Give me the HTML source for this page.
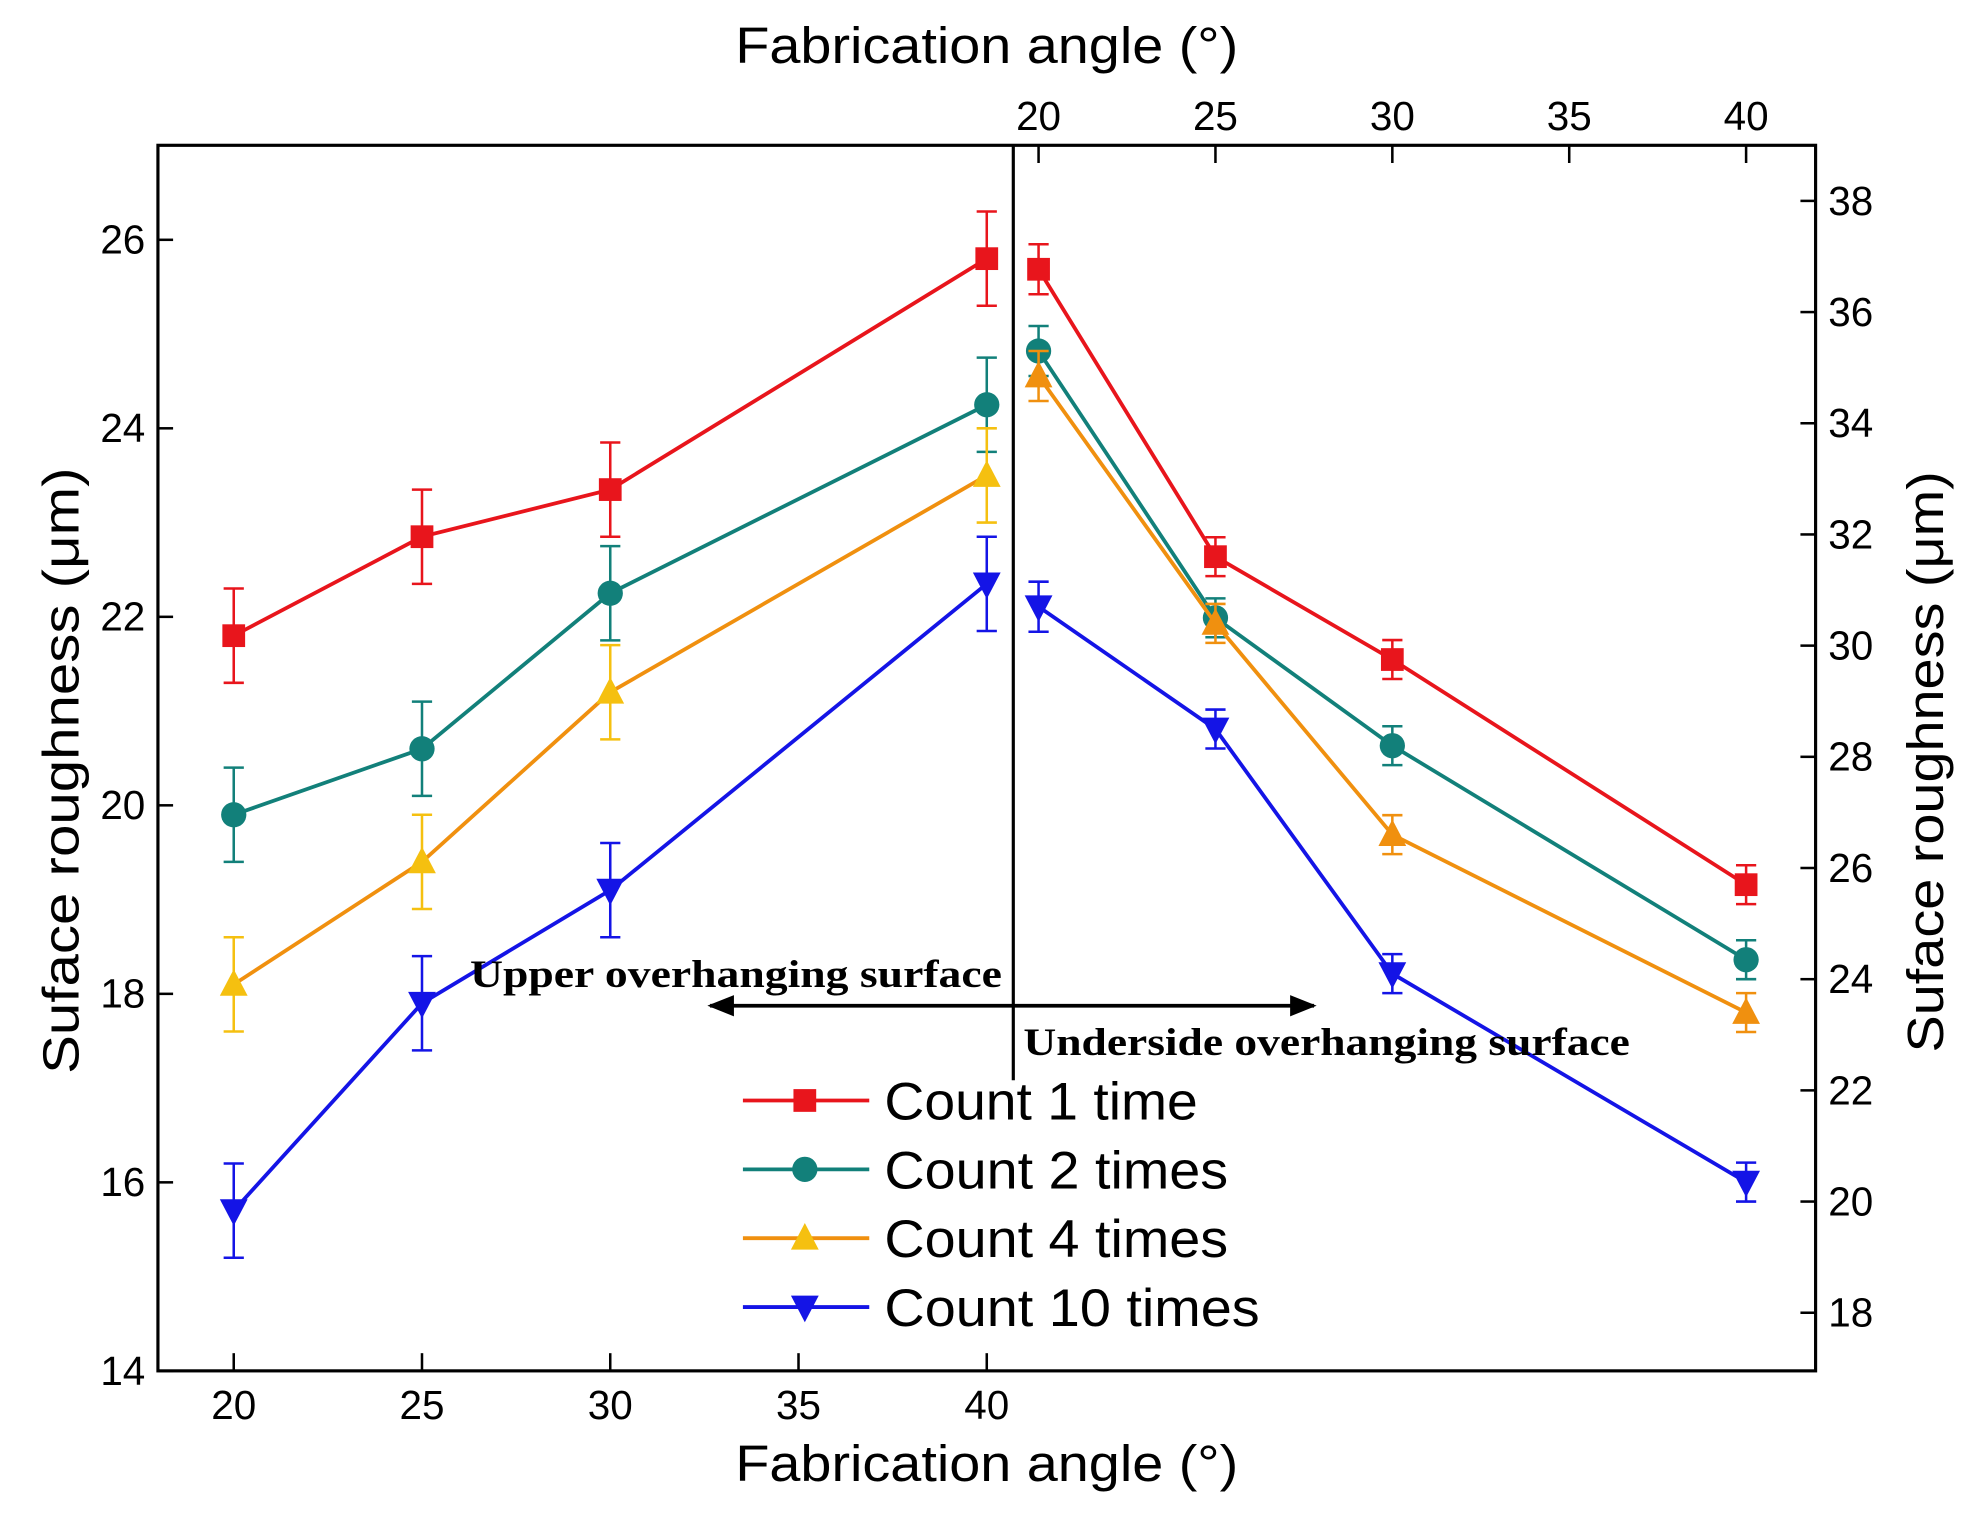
<!DOCTYPE html>
<html><head><meta charset="utf-8"><style>
html,body{margin:0;padding:0;background:#fff;}
svg{display:block;}
text{font-family:"Liberation Sans",sans-serif;}
text.serif{font-family:"Liberation Serif",serif;}
</style></head><body>
<svg id="chart" width="1971" height="1513" viewBox="0 0 1560 1197.5" xmlns="http://www.w3.org/2000/svg">
<defs>
<marker id="ah" viewBox="0 0 10 10" refX="9" refY="5" markerWidth="7" markerHeight="7" orient="auto-start-reverse"><path d="M0,1 L10,5 L0,9 z" fill="#000"/></marker>
</defs>
<g id="plot"></g>
</svg>
<script>
const xTicksBottom = [20,25,30,35,40];
const xTicksTop = [20,25,30,35,40];
const yTicksLeft = [14,16,18,20,22,24,26];
const yTicksRight = [18,20,22,24,26,28,30,32,34,36,38];
const leftX = [20,25,30,40];
const rightX = [20,25,30,40];
const seriesNames = ["Count 1 time","Count 2 times","Count 4 times","Count 10 times"];
const leftRed = [21.8,22.85,23.35,25.8];
const leftTeal = [19.9,20.6,22.25,24.25];
const leftOrange = [18.1,19.4,21.2,23.5];
const leftBlue = [15.7,17.9,19.1,22.35];
const leftErr = [0.5,0.5,0.5,0.5];
const rightRed = [36.77,31.6,29.75,25.7];
const rightTeal = [35.3,30.5,28.2,24.35];
const rightOrange = [34.85,30.4,26.6,23.4];
const rightBlue = [30.7,28.5,24.1,20.35];
const rightErr = [0.45,0.35,0.35,0.35];

const NS="http://www.w3.org/2000/svg";
const g=document.getElementById('plot');
function mk(tag,attrs,parent){const e=document.createElementNS(NS,tag);for(const k in attrs)e.setAttribute(k,attrs[k]);(parent||g).appendChild(e);return e;}
const xb=v=>185+(v-20)*29.8;
const xt=v=>822+(v-20)*28;
const yl=v=>1085-(v-14)*74.6;
const yr=v=>1039-(v-18)*44;
const L=125,R=1437,T=115,B=1085;

let e=mk('rect',{x:L,y:T,width:R-L,height:B-T,fill:'none',stroke:'#000','stroke-width':2.5});

xTicksBottom.forEach(v=>{
 mk('line',{x1:xb(v),x2:xb(v),y1:B,y2:B-14,stroke:'#000','stroke-width':2});
 e=mk('text',{x:xb(v),y:B+38,'font-size':32,'text-anchor':'middle'});e.textContent=v;
 
});
xTicksTop.forEach(v=>{
 mk('line',{x1:xt(v),x2:xt(v),y1:T,y2:T+14,stroke:'#000','stroke-width':2});
 e=mk('text',{x:xt(v),y:T-12,'font-size':32,'text-anchor':'middle'});e.textContent=v;
 
});
yTicksLeft.forEach(v=>{
 mk('line',{x1:L,x2:L+12,y1:yl(v),y2:yl(v),stroke:'#000','stroke-width':2});
 e=mk('text',{x:L-10,y:yl(v)+11,'font-size':32,'text-anchor':'end'});e.textContent=v;
 
});
yTicksRight.forEach(v=>{
 mk('line',{x1:R,x2:R-12,y1:yr(v),y2:yr(v),stroke:'#000','stroke-width':2});
 e=mk('text',{x:R+10,y:yr(v)+11,'font-size':32,'text-anchor':'start'});e.textContent=v;
 
});
e=mk('text',{x:582,y:50,'font-size':40,textLength:398,lengthAdjust:'spacingAndGlyphs'});e.textContent='Fabrication angle (°)';

e=mk('text',{x:582,y:1172,'font-size':40,textLength:398,lengthAdjust:'spacingAndGlyphs'});e.textContent='Fabrication angle (°)';

e=mk('text',{x:-240,y:0,'font-size':40,textLength:480,lengthAdjust:'spacingAndGlyphs',transform:'translate(62,610) rotate(-90)'});e.textContent='Suface roughness (μm)';

e=mk('text',{x:-230,y:0,'font-size':40,textLength:460,lengthAdjust:'spacingAndGlyphs',transform:'translate(1538,603) rotate(-90)'});e.textContent='Suface roughness (μm)';

e=mk('line',{x1:802,x2:802,y1:T,y2:855,stroke:'#000','stroke-width':2.5});


function marker(type,x,y,color,parent){
 let m;
 if(type==='sq') m=mk('rect',{x:x-9,y:y-9,width:18,height:18,fill:color},parent);
 else if(type==='ci') m=mk('circle',{cx:x,cy:y,r:10,fill:color},parent);
 else if(type==='up') m=mk('polygon',{points:`${x},${y-12} ${x-11},${y+9} ${x+11},${y+9}`,fill:color},parent);
 else m=mk('polygon',{points:`${x},${y+12} ${x-11},${y-9} ${x+11},${y-9}`,fill:color},parent);
 return m;
}
function series(xs,ys,errs,xf,yf,color,mcolor,type,name){
 const grp=mk('g',{});
 
 const pts=xs.map((x,i)=>xf(x)+','+yf(ys[i])).join(' ');
 mk('polyline',{points:pts,fill:'none',stroke:color,'stroke-width':3},grp);
 xs.forEach((x,i)=>{
  const px=xf(x),y1=yf(ys[i]+errs[i]),y2=yf(ys[i]-errs[i]);
  mk('line',{x1:px,x2:px,y1:y1,y2:y2,stroke:mcolor,'stroke-width':2},grp);
  mk('line',{x1:px-8,x2:px+8,y1:y1,y2:y1,stroke:mcolor,'stroke-width':2},grp);
  mk('line',{x1:px-8,x2:px+8,y1:y2,y2:y2,stroke:mcolor,'stroke-width':2},grp);
  const m=marker(type,px,yf(ys[i]),mcolor,grp);
  
 });
}
series(leftX,leftRed,leftErr,xb,yl,'#e8151c','#e8151c','sq','left-count-1');
series(leftX,leftTeal,leftErr,xb,yl,'#12807a','#12807a','ci','left-count-2');
series(leftX,leftOrange,leftErr,xb,yl,'#f0900f','#f5c010','up','left-count-4');
series(leftX,leftBlue,leftErr,xb,yl,'#1414e6','#1414e6','dn','left-count-10');
series(rightX,rightRed,rightErr,xt,yr,'#e8151c','#e8151c','sq','right-count-1');
series(rightX,rightTeal,rightErr,xt,yr,'#12807a','#12807a','ci','right-count-2');
series(rightX,rightOrange,rightErr,xt,yr,'#f0900f','#f0900f','up','right-count-4');
series(rightX,rightBlue,rightErr,xt,yr,'#1414e6','#1414e6','dn','right-count-10');

e=mk('text',{x:372,y:781,'font-size':31,'font-weight':'bold','class':'serif',textLength:421,lengthAdjust:'spacingAndGlyphs'});e.textContent='Upper overhanging surface';

e=mk('text',{x:810,y:835,'font-size':31,'font-weight':'bold','class':'serif',textLength:480,lengthAdjust:'spacingAndGlyphs'});e.textContent='Underside overhanging surface';

e=mk('line',{x1:562,x2:1040,y1:796,y2:796,stroke:'#000','stroke-width':3,'marker-start':'url(#ah)','marker-end':'url(#ah)'});


const legColors=['#e8151c','#12807a','#f0900f','#1414e6'];
const legMColors=['#e8151c','#12807a','#f5c010','#1414e6'];
const legTypes=['sq','ci','up','dn'];
const legLens=[248,272,272,297];
seriesNames.forEach((n,i)=>{
 const y=871+i*54.5;
 const lg=mk('g',{});
 
 mk('line',{x1:588,x2:688,y1:y,y2:y,stroke:legColors[i],'stroke-width':3},lg);
 marker(legTypes[i],637,y,legMColors[i],lg);
 const t=mk('text',{x:700,y:y+15,'font-size':42,textLength:legLens[i],lengthAdjust:'spacingAndGlyphs'},lg);t.textContent=n;
});
</script>
</body></html>
